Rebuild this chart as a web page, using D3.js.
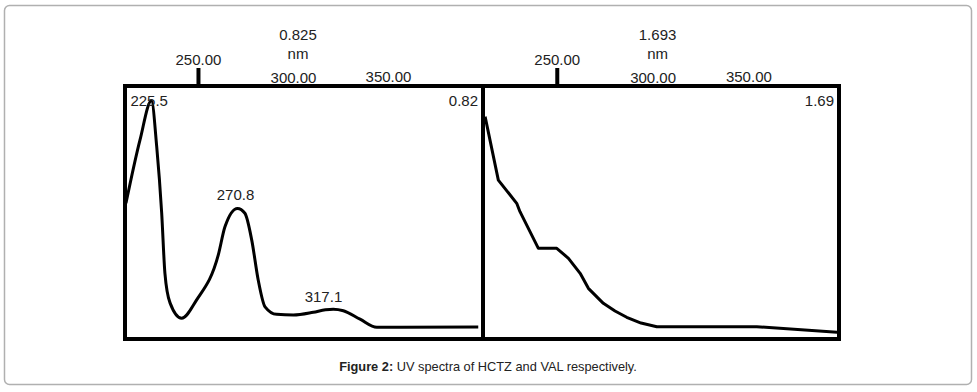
<!DOCTYPE html>
<html>
<head>
<meta charset="utf-8">
<script src="https://cdn.jsdelivr.net/npm/d3@7"></script>
<style>
  body { margin: 0; background: #fff; }
  svg { display: block; font-family: "Liberation Sans", Arial, sans-serif; }
</style>
</head>
<body>
<script>
// spectra (wavelength nm, absorbance)
var hctzWave = [212.1, 219.5, 225.5, 228.3, 230.9, 232.6, 235.3, 241.4, 249.3, 260.7, 264.2, 270.8, 274.7, 278.3, 281.7, 285.3, 291.4, 300.2, 310.7, 317.1, 321.2, 326.5, 335.3, 344.1, 397.5];
var hctzAbs  = [0.443, 0.653, 0.783, 0.630, 0.411, 0.212, 0.113, 0.062, 0.123, 0.272, 0.365, 0.426, 0.410, 0.321, 0.189, 0.100, 0.075, 0.073, 0.082, 0.090, 0.092, 0.087, 0.059, 0.032, 0.033];
var valWave  = [212.6, 219.5, 229.1, 230.8, 240.4, 250.0, 256.1, 262.2, 266.5, 274.3, 280.4, 286.5, 294.0, 302.2, 354.4, 396.5];
var valAbs   = [1.498, 1.067, 0.909, 0.852, 0.603, 0.603, 0.535, 0.433, 0.331, 0.229, 0.177, 0.134, 0.095, 0.070, 0.070, 0.032];

var tickValues = [250, 300, 350];
var hctzPeaks = [225.5, 270.8, 317.1];
var maxAbs = [0.825, 1.693];

var width = 977, height = 392;

var svg = d3.select("body").append("svg")
    .attr("width", width)
    .attr("height", height);

// light rounded border round the whole figure
svg.append("rect")
    .attr("x", 4.5).attr("y", 5.5)
    .attr("width", 967).attr("height", 379)
    .attr("rx", 5)
    .style("fill", "none")
    .style("stroke", "#b0b0b0")
    .style("stroke-width", 1.5);

var panels = [
  { left: 125, right: 483, domain: [211.6, 400], wave: hctzWave, abs: hctzAbs, ymax: maxAbs[0], corner: "0.82", curve: d3.curveMonotoneX },
  { left: 483, right: 839, domain: [211.5, 397.3], wave: valWave, abs: valAbs, ymax: maxAbs[1], corner: "1.69", curve: d3.curveLinear }
];
var frameTop = 86, frameBottom = 339;

panels.forEach(function(p, i) {
  var x = d3.scaleLinear().domain(p.domain).range([p.left, p.right]);
  var y = d3.scaleLinear().domain([0, p.ymax]).range([frameBottom - 2, frameTop + 2]);
  var data = p.wave.map(function(w, j) { return { w: w, a: p.abs[j] }; });

  var g = svg.append("g");

  g.append("clipPath").attr("id", "clip" + i)
    .append("rect")
    .attr("x", p.left + 2).attr("y", frameTop + 2)
    .attr("width", p.right - p.left - 4).attr("height", frameBottom - frameTop - 4);

  // spectrum
  var line = d3.line()
      .x(function(d) { return x(d.w); })
      .y(function(d) { return y(d.a); })
      .curve(p.curve);

  g.append("path")
      .datum(data)
      .attr("clip-path", "url(#clip" + i + ")")
      .attr("d", line)
      .style("fill", "none")
      .style("stroke", "#000")
      .style("stroke-width", 3)
      .style("stroke-linejoin", "round");

  // frame
  g.append("rect")
      .attr("x", p.left).attr("y", frameTop)
      .attr("width", p.right - p.left).attr("height", frameBottom - frameTop)
      .style("fill", "none")
      .style("stroke", "#000")
      .style("stroke-width", 4);

  // top axis: only the 250 tick has a mark
  var axis = g.append("g")
      .attr("transform", "translate(0," + (frameTop - 2) + ")")
      .call(d3.axisTop(x).tickValues(tickValues).tickFormat(d3.format(".2f")).tickSize(16));
  axis.select(".domain").remove();
  axis.selectAll(".tick line")
      .style("stroke", "#000")
      .style("stroke-width", 4)
      .style("display", function(d) { return d === 250 ? null : "none"; });
  axis.selectAll(".tick text")
      .attr("dy", 0)
      .attr("y", function(d) { return d === 250 ? -19 : (d === 300 ? -1 : -2); })
      .style("font-family", "'Liberation Sans', Arial, sans-serif")
      .style("font-size", "15px")
      .style("fill", "#222");

  // max value and unit above the 300 label
  g.append("text")
      .attr("x", x(300) + 5).attr("y", 40)
      .attr("text-anchor", "middle")
      .style("font-size", "15px").style("fill", "#222")
      .text(d3.format(".3f")(p.ymax));
  g.append("text")
      .attr("x", x(300) + 5).attr("y", 59)
      .attr("text-anchor", "middle")
      .style("font-size", "15px").style("fill", "#222")
      .text("nm");

  // max value in the corner
  g.append("text")
      .attr("x", p.right - 5).attr("y", 106)
      .attr("text-anchor", "end")
      .style("font-size", "15px").style("fill", "#222")
      .text(p.corner);

  // peak labels for HCTZ
  if (i === 0) {
    hctzPeaks.forEach(function(pk, k) {
      var a = p.abs[p.wave.indexOf(pk)];
      g.append("text")
          .attr("x", k === 0 ? x(pk) - 21 : x(pk) - 2)
          .attr("y", k === 0 ? y(a) + 5 : y(a) - 8)
          .attr("text-anchor", k === 0 ? "start" : "middle")
          .style("font-size", "15px").style("fill", "#222")
          .text(pk.toFixed(1));
    });
  }
});

// caption
var cap = svg.append("text")
    .attr("x", 488).attr("y", 371)
    .attr("text-anchor", "middle")
    .style("font-size", "12.8px")
    .style("fill", "#222");
cap.append("tspan").style("font-weight", "bold").text("Figure 2:");
cap.append("tspan").text(" UV spectra of HCTZ and VAL respectively.");
</script>
</body>
</html>
